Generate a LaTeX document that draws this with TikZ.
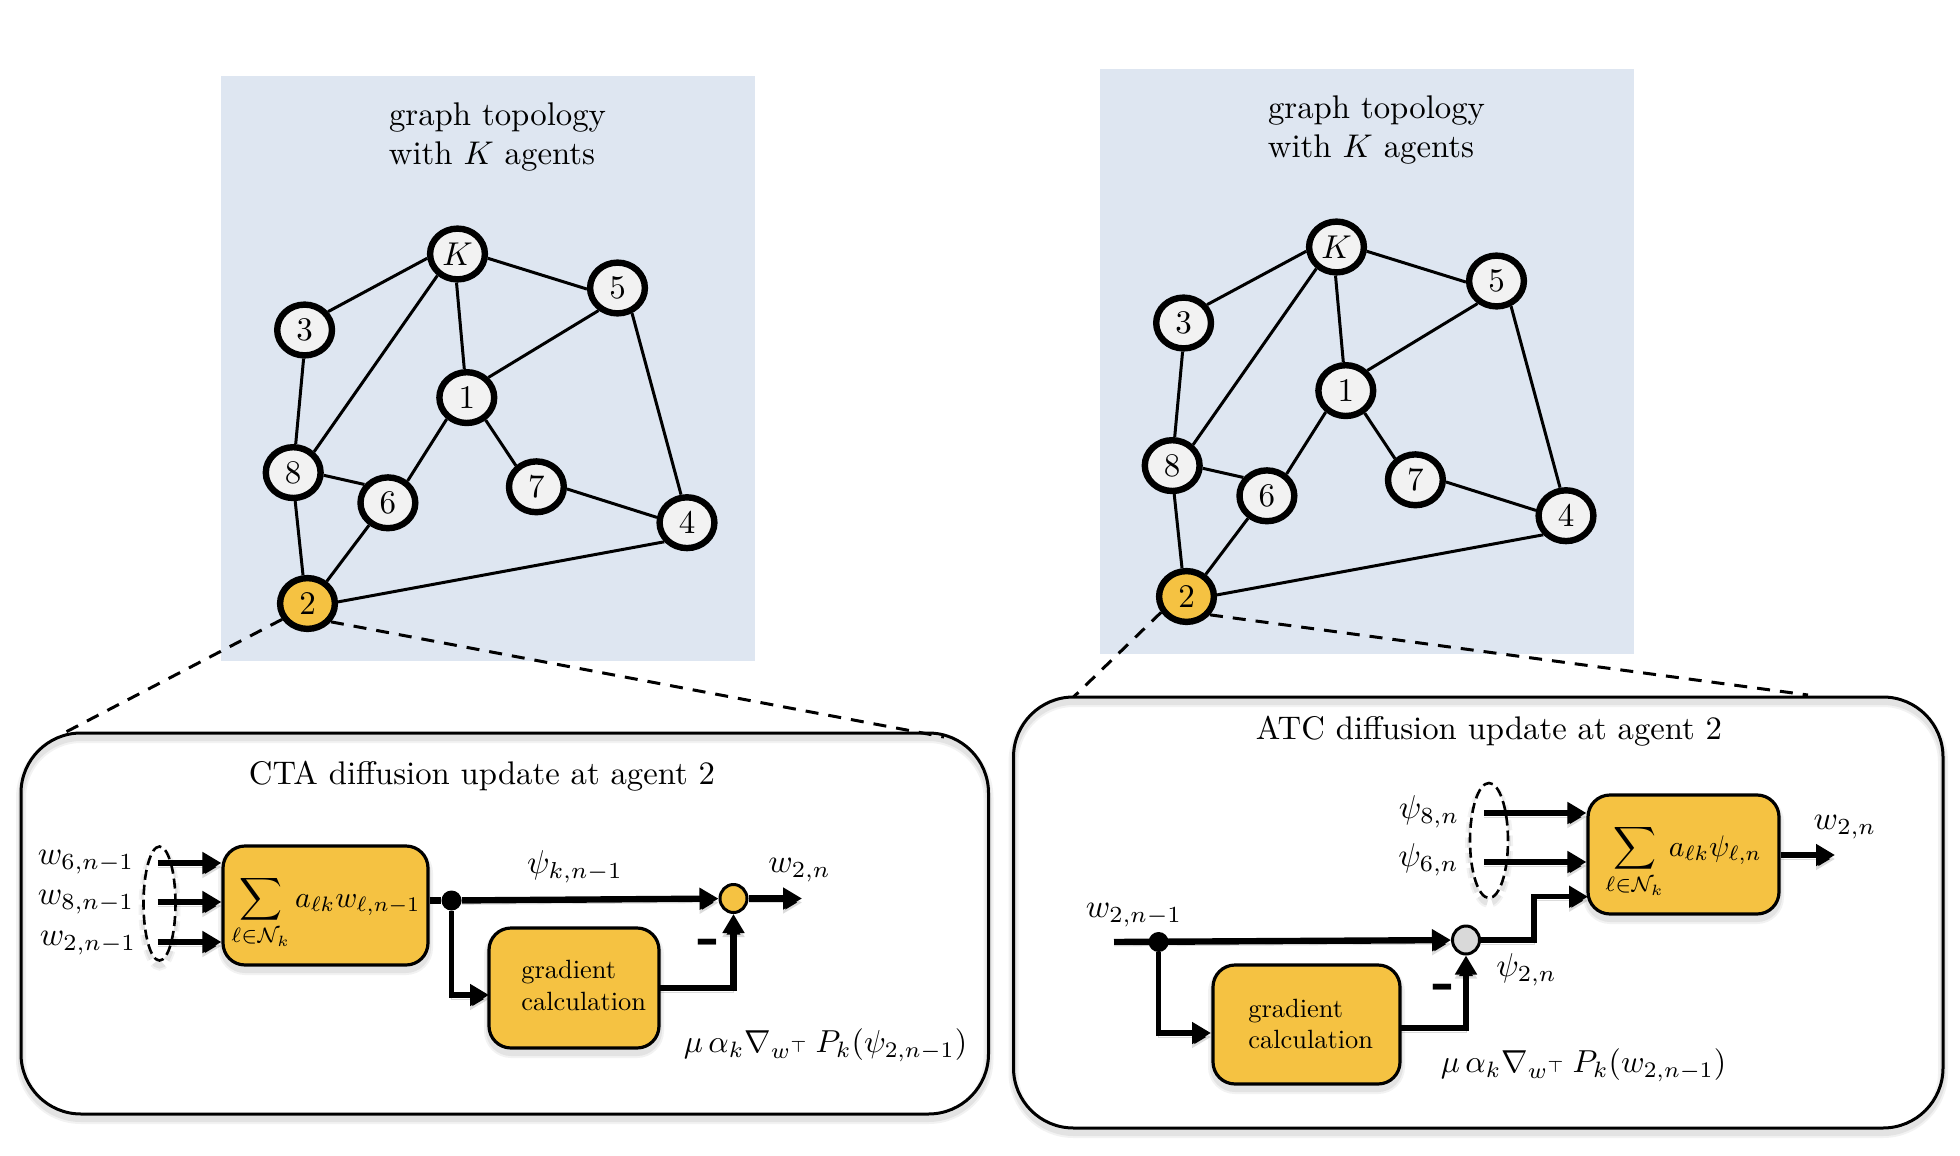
\documentclass[tikz,border=0pt]{standalone}
\usepackage{graphicx}
\usepackage{amsmath}
\usetikzlibrary{arrows.meta,shapes.geometric,calc}
\definecolor{panelblue}{HTML}{DEE6F1}
\definecolor{amber}{HTML}{F5C242}
\definecolor{nodegrey}{HTML}{F2F2F2}
\definecolor{mixgrey}{HTML}{D9D9D9}
\newcommand{\zoomed}[2][1.65]{\scalebox{#1}{#2}}
\tikzset{
  agent/.style={ellipse,draw=black,line width=3.2pt,fill=nodegrey,inner sep=0pt,
    minimum width=27.4pt,minimum height=25.4pt},
  edge/.style={line width=1.5pt},
  zoomline/.style={line width=1.5pt,dash pattern=on 6.5pt off 5pt},
  graphback/.style={fill=panelblue,draw=none},
  softstroke/.style={
    preaction={draw=black,draw opacity=.05,line width=5pt,transform canvas={yshift=-2.5pt}},
    preaction={draw=black,draw opacity=.06,line width=3pt,transform canvas={yshift=-2.5pt}}},
  panel/.style={rectangle,rounded corners=30pt,draw=black,line width=1.5pt,softstroke},
  amberbox/.style={rectangle,rounded corners=11pt,draw=black,line width=1.6pt,fill=amber,softstroke},
  flow/.style={line width=3.2pt,-{Triangle[length=9.5pt,width=10.5pt]},
    preaction={draw=black,draw opacity=.14,transform canvas={yshift=-2pt}}},
  flowthin/.style={flow,line width=2.7pt},
  plainflow/.style={line width=3.2pt},
  mixer/.style={ellipse,draw=black,line width=1.5pt,inner sep=0pt,minimum width=13.5pt,minimum height=14pt},
  junction/.style={circle,fill=black,inner sep=0pt,minimum size=10pt},
  neighbours/.style={ellipse,draw=black,line width=1.3pt,dash pattern=on 5pt off 2.5pt,fill=white,inner sep=0pt,softstroke},
  mathlabel/.style={inner sep=0pt},
  sumlabel/.style={inner sep=0pt,anchor=base},
  titlelabel/.style={inner sep=0pt,anchor=base},
  gradlabel/.style={inner sep=0pt,anchor=base west},
  minuslabel/.style={inner sep=0pt,font=\bfseries},
}
\newcommand{\graphtopology}[2]{%
  \begin{scope}[shift={#1},name prefix=#2]
    \node[graphback,minimum width=267pt,minimum height=292.5pt,inner sep=0pt] (back) at (488,368.5) {};
    \node[titlelabel] (title1) at (497.5,126) {\zoomed[1.64]{graph topology}};
    \node[titlelabel] (title2) at (492,164.5) {\zoomed[1.64]{with $K$ agents}};
    \node[agent] (K) at (457.5,254) {\zoomed{$K$}};
    \node[agent] (5) at (617.5,288) {\zoomed{5}};
    \node[agent] (3) at (304.6,330) {\zoomed{3}};
    \node[agent] (1) at (466.8,397.6) {\zoomed{1}};
    \node[agent] (8) at (293.2,472.6) {\zoomed{8}};
    \node[agent] (6) at (387.9,502.8) {\zoomed{6}};
    \node[agent] (7) at (536.4,486.8) {\zoomed{7}};
    \node[agent] (4) at (687,522.7) {\zoomed{4}};
    \node[agent,fill=amber] (2) at (307.5,603.5) {\zoomed{2}};
    \draw[edge] (K.-8)--(5.182) (K.188)--(3.38) (K.227)--(8.45) (K.268)--(1.95)
      (5.230)--(1.43) (5.300)--(4.102) (3.268)--(8.85) (1.227)--(6.48) (1.310)--(7.134)
      (8.355)--(6.142) (8.274)--(2.99) (6.230)--(2.49) (7.356)--(4.170) (2.3)--(4.220);
  \end{scope}}
\begin{document}
\begin{tikzpicture}[x=0.5pt,y=-0.5pt]
\useasboundingbox (0,0) rectangle (1960,1156);
\fill[white] (0,0) rectangle (1960,1156);

\graphtopology{(0,0)}{a-}
\graphtopology{(879,-7)}{b-}

% ---------- left panel
\coordinate (czl) at (64,733);
\coordinate (czr) at (944,737);
\draw[zoomline] (a-2.212) -- (czl);
\draw[zoomline] (a-2.322) -- (czr);
\node[panel,minimum width=483.75pt,minimum height=190.5pt,inner sep=0pt] (ctapanel) at (504.75,923.5) {};
\node[titlelabel] (ctatitle) at (482,784) {\zoomed[1.635]{CTA diffusion update at agent 2}};

\node[neighbours,minimum width=16pt,minimum height=57pt] (ctaell) at (159.5,903.5) {};
\node[amberbox,minimum width=102.5pt,minimum height=59.5pt,inner sep=0pt] (ctasum) at (325.5,905.5) {};
\node[amberbox,minimum width=85pt,minimum height=60pt,inner sep=0pt] (ctagrad) at (574,988) {};
\node[junction] (ctadot) at (451.5,900.5) {};
\node[mixer,fill=amber] (ctamix) at (733.5,898.5) {};

\node[sumlabel] (ctaform) at (326,907) {\zoomed[1.49]{$\displaystyle\sum_{\ell\in\mathcal{N}_k} a_{\ell k} w_{\ell,n-1}$}};
\node[gradlabel] (ctag1) at (521,978) {\zoomed[1.32]{gradient}};
\node[gradlabel] (ctag2) at (521,1010) {\zoomed[1.32]{calculation}};

\node[mathlabel] (cl6) at (86,862) {\zoomed{$w_{6,n-1}$}};
\node[mathlabel] (cl8) at (86,902) {\zoomed{$w_{8,n-1}$}};
\node[mathlabel] (cl2) at (88,943) {\zoomed{$w_{2,n-1}$}};
\node[mathlabel] (clpsi) at (575,867) {\zoomed{$\psi_{k,n-1}$}};
\node[mathlabel] (clout) at (799.6,870) {\zoomed{$w_{2,n}$}};
\node[mathlabel] (clmu) at (825.6,1045) {\zoomed[1.59]{$\mu\,\alpha_k\nabla_{w^{\top}}\,P_k(\psi_{2,n-1})$}};
\node[minuslabel] (cminus) at (709,947) {\zoomed[3]{-}};

\coordinate (cin6) at (157.5,863);
\coordinate (cin8) at (157.5,902);
\coordinate (cin2) at (157.5,942);
\coordinate (cgin) at (489,995);
\coordinate (cgout) at (659,988);
\coordinate (cend) at (802,898.5);
\draw[flow] (cin6) -- (cin6 -| ctasum.west);
\draw[flow] (cin8) -- (cin8 -| ctasum.west);
\draw[flow] (cin2) -- (cin2 -| ctasum.west);
\draw[plainflow] (ctadot -| ctasum.east) -- (ctadot);
\draw[flow] (ctadot) -- (ctamix);
\draw[flow] (ctamix) -- (cend);
\draw[flowthin] (ctadot) |- (cgin);
\draw[flow] (cgout) -| (ctamix);

% ---------- right panel
\coordinate (azl) at (1073.5,697);
\coordinate (azr) at (1808,695);
\draw[zoomline] (b-2.212) -- (azl);
\draw[zoomline] (b-2.322) -- (azr);
\node[panel,minimum width=464.75pt,minimum height=215.5pt,inner sep=0pt] (atcpanel) at (1478.25,912.5) {};
\node[titlelabel] (atctitle) at (1489,739) {\zoomed[1.635]{ATC diffusion update at agent 2}};

\node[neighbours,minimum width=19pt,minimum height=57.5pt] (atcell) at (1489,840.5) {};
\node[amberbox,minimum width=95.5pt,minimum height=59.5pt,inner sep=0pt] (atcsum) at (1683.5,854.5) {};
\node[amberbox,minimum width=93.5pt,minimum height=59.5pt,inner sep=0pt] (atcgrad) at (1306.5,1024.5) {};
\node[junction] (atcdot) at (1158.6,942) {};
\node[mixer,fill=mixgrey] (atcmix) at (1466,940) {};

\node[sumlabel] (atcform) at (1683.6,856) {\zoomed[1.49]{$\displaystyle\sum_{\ell\in\mathcal{N}_k} a_{\ell k}\psi_{\ell,n}$}};
\node[gradlabel] (atcg1) at (1248,1017) {\zoomed[1.32]{gradient}};
\node[gradlabel] (atcg2) at (1248,1048) {\zoomed[1.32]{calculation}};

\node[mathlabel] (al8) at (1429,812) {\zoomed{$\psi_{8,n}$}};
\node[mathlabel] (al6) at (1428.7,860) {\zoomed{$\psi_{6,n}$}};
\node[mathlabel] (alout) at (1845,827) {\zoomed{$w_{2,n}$}};
\node[mathlabel] (alin) at (1134,915) {\zoomed{$w_{2,n-1}$}};
\node[mathlabel] (alpsi) at (1526.6,970) {\zoomed{$\psi_{2,n}$}};
\node[mathlabel] (almu) at (1583.6,1065) {\zoomed[1.59]{$\mu\,\alpha_k\nabla_{w^{\top}}\,P_k(w_{2,n-1})$}};
\node[minuslabel] (aminus) at (1444,992) {\zoomed[3]{-}};

\coordinate (ain8) at (1484,813);
\coordinate (ain6) at (1484,862);
\coordinate (astart) at (1114,942);
\coordinate (aout) at (1835,855);
\coordinate (agin) at (1211,1033);
\coordinate (agout) at (1400,1028);
\coordinate (aknee) at (1534,940);
\coordinate (aup) at (1588,896.7);
\draw[flow] (ain8) -- (ain8 -| atcsum.west);
\draw[flow] (ain6) -- (ain6 -| atcsum.west);
\draw[flow] (aout -| atcsum.east) -- (aout);
\draw[flow] (astart) -- (atcmix);
\draw[flowthin] (atcdot) |- (agin);
\draw[flow] (agout) -| (atcmix);
\draw[flowthin] (atcmix) -- (aknee) |- (aup);
\end{tikzpicture}
\end{document}
